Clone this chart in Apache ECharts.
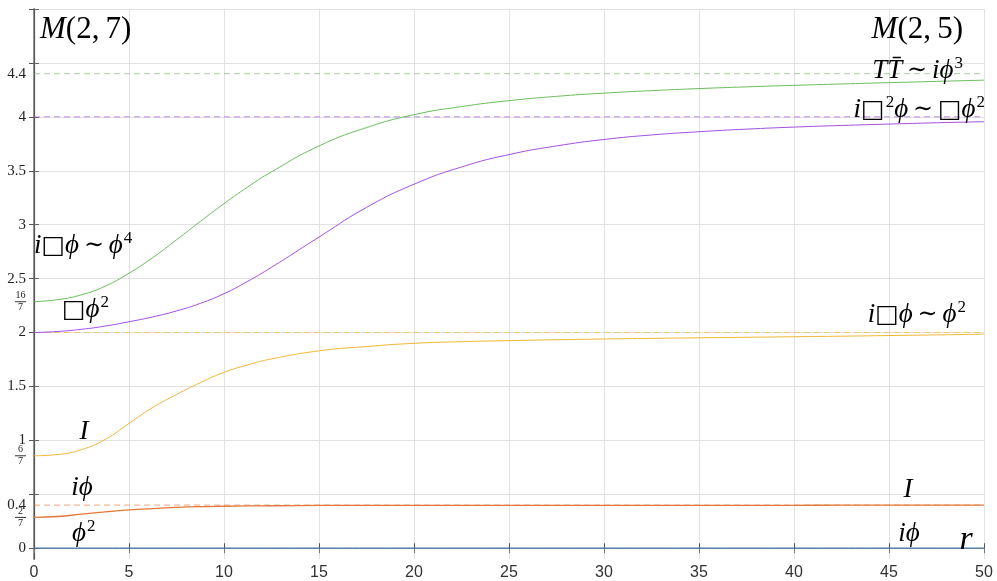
<!DOCTYPE html>
<html>
<head>
<meta charset="utf-8">
<script src="https://cdn.jsdelivr.net/npm/echarts@6/dist/echarts.min.js"></script>
<style>
  html, body { margin: 0; padding: 0; background: #fff; }
  #main { width: 997px; height: 581px; }
</style>
</head>
<body>
<div id="main"></div>
<script>
// r 采样点
var rValues = [0, 1.25, 2.5, 3.75, 5, 6.25, 7.5, 8.75, 10, 11.25, 12.5, 15, 17.5, 20, 22.5, 25, 27.5, 30, 32.5, 35, 37.5, 40, 42.5, 45, 47.5, 50];
var phi2Values = [0, 0, 0, 0, 0, 0, 0, 0, 0, 0, 0, 0, 0, 0, 0, 0, 0, 0, 0, 0, 0, 0, 0, 0, 0, 0];
var iPhiValues = [0.286, 0.294, 0.316, 0.337, 0.355, 0.368, 0.378, 0.385, 0.389, 0.392, 0.394, 0.397, 0.398, 0.398, 0.398, 0.398, 0.398, 0.398, 0.398, 0.398, 0.398, 0.398, 0.399, 0.399, 0.4, 0.4];
var identityValues = [0.857, 0.869, 0.914, 1.009, 1.157, 1.305, 1.425, 1.535, 1.63, 1.7, 1.755, 1.83, 1.87, 1.9, 1.915, 1.925, 1.933, 1.94, 1.946, 1.951, 1.956, 1.961, 1.966, 1.972, 1.978, 1.985];
var boxPhi2Values = [2.0, 2.01, 2.03, 2.06, 2.1, 2.145, 2.2, 2.27, 2.36, 2.475, 2.605, 2.885, 3.16, 3.375, 3.535, 3.65, 3.73, 3.79, 3.832, 3.862, 3.886, 3.905, 3.92, 3.933, 3.945, 3.955];
var iBoxPhiValues = [2.286, 2.305, 2.35, 2.43, 2.55, 2.695, 2.86, 3.03, 3.195, 3.35, 3.49, 3.73, 3.9, 4.02, 4.095, 4.15, 4.19, 4.22, 4.243, 4.262, 4.278, 4.292, 4.305, 4.317, 4.329, 4.34];

// UV 端的渐近线
var asymIPhi = 0.4;
var asymIdentity = 2;
var asymBoxPhi2 = 4;
var asymIBoxPhi = 4.4;

// 刻度
var yTicks = [0, 0.5, 1, 1.5, 2, 2.5, 3, 3.5, 4, 4.5, 5];
var yLabelValues = [0, 2 / 7, 0.4, 6 / 7, 1, 1.5, 2, 16 / 7, 2.5, 3, 3.5, 4, 4.4];
var yLabelTexts = ['0', '{n|2}\n{l|}\n{d|7}', '0.4', '{n|6}\n{l|}\n{d|7}', '1', '1.5', '2',
  '{n|16}\n{l|}\n{d|7}', '2.5', '3', '3.5', '4', '4.4'];

var colors = {
  blue: '#2f6fae',
  orange: '#e2783a',
  yellow: '#f0b835',
  purple: '#a24fe2',
  green: '#69bf5a'
};

function pairs(ys) {
  return rValues.map(function (r, i) { return [r, ys[i]]; });
}
function flat(y) {
  return [[0, y], [50, y]];
}

var eChart = echarts.init(document.getElementById('main'));

var mathFont = '"Liberation Serif", "DejaVu Serif", serif';
function makeRich(size) {
  return {
    m: { fontFamily: mathFont, fontStyle: 'italic', fontSize: size, color: '#111', lineHeight: 32 },
    u: { fontFamily: mathFont, fontSize: size, color: '#111', lineHeight: 32 },
    t: { fontFamily: '"DejaVu Serif", serif', fontSize: size - 3, color: '#111', lineHeight: 32 },
    b: { fontFamily: '"DejaVu Sans", sans-serif', fontSize: size - 2, color: '#222', lineHeight: 32 },
    s: { fontFamily: mathFont, fontSize: 17, color: '#111', lineHeight: 32, verticalAlign: 'top', padding: [0, 0, 0, 1] }
  };
}

function mathText(x, y, text, align, size) {
  return {
    type: 'text',
    x: x,
    y: y,
    z: 100,
    style: {
      text: text,
      rich: makeRich(size || 27),
      align: align || 'left',
      verticalAlign: 'middle'
    }
  };
}

function lineSeries(name, data, color, dashed, width) {
  return {
    name: name,
    type: 'line',
    data: data,
    showSymbol: false,
    symbol: 'none',
    smooth: dashed ? false : 0.5,
    animation: false,
    lineStyle: {
      color: color,
      width: width || 1,
      type: dashed ? [6, 4] : 'solid',
      opacity: dashed ? 0.65 : 1
    },
    z: dashed ? 2 : 3
  };
}

var sim = '{t|\u2009\u223c\u2009}';

var option = {
  animation: false,
  backgroundColor: '#fff',
  grid: { left: 34, right: 13, top: 9, bottom: 21 },
  xAxis: [{
    type: 'value',
    min: 0,
    max: 50,
    interval: 5,
    axisLine: { show: true, lineStyle: { color: '#555', width: 1.2 } },
    axisTick: { show: true, inside: true, length: 5, lineStyle: { color: '#555' } },
    axisLabel: { color: '#333', fontSize: 16, fontFamily: '"Liberation Sans", Arial, sans-serif', margin: 6 },
    splitLine: { show: true, lineStyle: { color: '#e2e2e2', width: 1 } }
  }, {
    type: 'value',
    position: 'top',
    min: 0,
    max: 50,
    interval: 5,
    axisLine: { show: true, lineStyle: { color: '#cfcfcf', width: 1.5 } },
    axisTick: { show: true, inside: true, length: 5, lineStyle: { color: '#777' } },
    axisLabel: { show: false },
    splitLine: { show: false }
  }],
  yAxis: [{
    type: 'value',
    min: -0.1,
    max: 5,
    axisLine: { show: true, lineStyle: { color: '#9a9a9a', width: 2 } },
    axisTick: { show: true, inside: true, length: 5, customValues: yTicks, lineStyle: { color: '#666' } },
    axisLabel: {
      customValues: yLabelValues,
      margin: 8,
      color: '#222',
      fontSize: 15,
      fontFamily: mathFont,
      formatter: function (v) {
        for (var i = 0; i < yLabelValues.length; i++) {
          if (Math.abs(yLabelValues[i] - v) < 1e-6) return yLabelTexts[i];
        }
        return '';
      },
      rich: {
        n: { fontSize: 10, fontFamily: mathFont, color: '#222', lineHeight: 10, align: 'center' },
        d: { fontSize: 10, fontFamily: mathFont, color: '#222', lineHeight: 10, align: 'center' },
        l: { width: 11, height: 1, lineHeight: 2, backgroundColor: '#333', align: 'center' }
      }
    },
    splitLine: { show: true, lineStyle: { color: '#e2e2e2', width: 1 } }
  }, {
    type: 'value',
    position: 'right',
    min: -0.1,
    max: 5,
    axisLine: { show: true, lineStyle: { color: '#555', width: 1.2 } },
    axisTick: { show: true, inside: true, length: 5, customValues: yTicks, lineStyle: { color: '#555' } },
    axisLabel: { show: false },
    splitLine: { show: false }
  }],
  series: [
    lineSeries('dash4.4', flat(asymIBoxPhi), colors.green, true),
    lineSeries('dash4', flat(asymBoxPhi2), colors.purple, true),
    lineSeries('dash2', flat(asymIdentity), colors.yellow, true),
    lineSeries('dash0.4', flat(asymIPhi), colors.orange, true),
    lineSeries('phi2', pairs(phi2Values), colors.blue, false),
    lineSeries('iphi', pairs(iPhiValues), colors.orange, false, 1.3),
    lineSeries('I', pairs(identityValues), colors.yellow, false),
    lineSeries('boxphi2', pairs(boxPhi2Values), colors.purple, false),
    lineSeries('iboxphi', pairs(iBoxPhiValues), colors.green, false)
  ],
  graphic: [
    mathText(40, 30, '{m|M}{u|(2,\u20097)}', 'left', 31),
    mathText(963, 30, '{m|M}{u|(2,\u20095)}', 'right', 31),
    mathText(963, 71, '{m|TT\u0304}' + sim + '{m|i\u03d5}{s|3}', 'right'),
    mathText(985, 110, '{m|i}{b|\u25a1}{s|2}{m|\u03d5}' + sim + '{b|\u25a1}{m|\u03d5}{s|2}', 'right'),
    mathText(966, 315, '{m|i}{b|\u25a1}{m|\u03d5}' + sim + '{m|\u03d5}{s|2}', 'right'),
    mathText(908, 490, '{m|I}', 'center'),
    mathText(909, 534, '{m|i\u03d5}', 'center'),
    mathText(966, 540, '{m|r}', 'center', 34),
    mathText(34, 246, '{m|i}{b|\u25a1}{m|\u03d5}' + sim + '{m|\u03d5}{s|4}', 'left'),
    mathText(62, 310, '{b|\u25a1}{m|\u03d5}{s|2}', 'left'),
    mathText(84, 432, '{m|I}', 'center'),
    mathText(82, 488, '{m|i\u03d5}', 'center'),
    mathText(72, 534, '{m|\u03d5}{s|2}', 'left')
  ]
};

eChart.setOption(option);
</script>
</body>
</html>
